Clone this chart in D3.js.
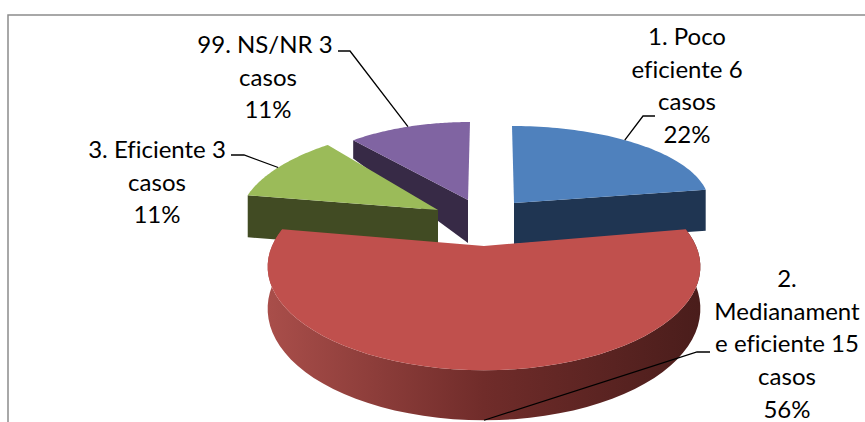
<!DOCTYPE html>
<html>
<head>
<meta charset="utf-8">
<script src="https://cdn.jsdelivr.net/npm/d3@7"></script>
<style>
  html, body { margin: 0; padding: 0; background: #fff; }
  text { font-family: Lato, "Open Sans", sans-serif; font-size: 24px; fill: #000; font-variant-ligatures: none; }
</style>
</head>
<body>
<div id="chart-container"></div>
<script>
// values
const categories = ["1. Poco eficiente", "2. Medianamente eficiente", "3. Eficiente", "99. NS/NR"];
const casos = [6, 15, 3, 3];
const topColors = ["#4f81bd", "#c0504d", "#9bbb59", "#8064a2"];
const wallColors = ["#1f3552", "#a94e4a", "#414b23", "#372a46"];

// how each label is broken in lines, the last two lines are filled from the data
const labelBreaks = [
  ["1. Poco", "eficiente 6"],
  ["2.", "Medianament", "e eficiente 15"],
  ["3. Eficiente 3"],
  ["99. NS/NR 3"]
];

var width = 865, height = 422;

// exploded slices: each one has its own centre and perspective
// s = sideways shear, p = perspective, d/k = wall depth, lead = where the leader touches
const slices = [
  {cx: 514, cy: 203, rx: 195, ry: 77, s: -2, p: 0, d: 41, k: 0, lead: 0.44, wall: "cut-end"},
  {cx: 484, cy: 246, rx: 212, ry: 99.4, s: 0, p: 0.2, d: 40, k: 0.25, lead: 0.5, wall: "rim"},
  {cx: 438, cy: 210, rx: 197, ry: 85, s: 21.5, p: 0, d: 42, k: 0, lead: 0.5, wall: "cut-start"},
  {cx: 468, cy: 200, rx: 181, ry: 78, s: 2, p: 0, d: 43, k: 0.75, lead: 0.5, wall: "cut-start"}
];

// label layout: text centre, first baseline, leader knee and end next to the text
const labelLayout = [
  {x: 687, y: 45, knee: [643, 116], end: [655, 116]},
  {x: 787, y: 287, knee: [697, 352], end: [710, 352]},
  {x: 157, y: 158, knee: [244, 155], end: [231, 155]},
  {x: 265, y: 53, knee: [350, 51], end: [338, 51]}
];

const svg = d3.select("#chart-container")
  .append("svg")
    .attr("width", width)
    .attr("height", height)
    .style("display", "block")
    .style("background", "#fff");

// frame, cut by the edge of the picture on the right and at the bottom
svg.append("rect")
  .attr("x", 8).attr("y", 15)
  .attr("width", width + 20).attr("height", height + 20)
  .attr("fill", "none")
  .attr("stroke", "#8c8c8c")
  .attr("stroke-width", 1.5);

const total = d3.sum(casos);
const arcs = d3.pie().sort(null).value(d => d)(casos);

// rim point of a slice at angle a, lowered by the wall depth when down is set
function project(g, a, down) {
  const X = Math.sin(a), Y = -Math.cos(a);
  const w = 1 - g.p * Y;
  const px = g.cx + (g.rx * X - g.s * Y) / w;
  const py = g.cy + g.ry * Y / w;
  return [px, py + (down ? g.d * (1 + g.k * Y) : 0)];
}

const line = d3.line();
const rimAngles = arc => d3.range(0, 61).map(i => arc.startAngle + (arc.endAngle - arc.startAngle) * i / 60);

// horizontal shading of the big wall
const grad = svg.append("defs").append("linearGradient")
  .attr("id", "redWall")
  .attr("gradientUnits", "userSpaceOnUse")
  .attr("x1", 268).attr("x2", 700).attr("y1", 0).attr("y2", 0);
grad.append("stop").attr("offset", 0).attr("stop-color", wallColors[1]);
grad.append("stop").attr("offset", 0.5).attr("stop-color", "#702c2a");
grad.append("stop").attr("offset", 1).attr("stop-color", "#4a1d1b");

// paint far slices first, the red one goes over everything
const order = [3, 2, 0, 1];
const g = svg.append("g");
order.forEach(i => {
  const geo = slices[i], arc = arcs[i];
  const apex = [geo.cx, geo.cy];
  const apexDown = [geo.cx, geo.cy + geo.d];

  if (geo.wall == "rim") {
    const angles = rimAngles(arc);
    const pts = angles.map(a => project(geo, a, false))
      .concat(angles.slice().reverse().map(a => project(geo, a, true)));
    g.append("path").attr("d", line(pts) + "Z").attr("fill", "url(#redWall)");
  } else {
    const a = geo.wall == "cut-end" ? arc.endAngle : arc.startAngle;
    const pts = [apex, project(geo, a, false), project(geo, a, true), apexDown];
    g.append("path").attr("d", line(pts) + "Z").attr("fill", wallColors[i]);
  }

  const face = [apex].concat(rimAngles(arc).map(a => project(geo, a, false)));
  g.append("path").attr("d", line(face) + "Z").attr("fill", topColors[i]);
});

// leaders and labels
arcs.forEach((arc, i) => {
  const geo = slices[i], lay = labelLayout[i];
  const a = arc.startAngle + (arc.endAngle - arc.startAngle) * geo.lead;
  const start = project(geo, a, geo.wall == "rim");
  svg.append("path")
    .attr("d", line([start, lay.knee, lay.end]))
    .attr("fill", "none")
    .attr("stroke", "#000")
    .attr("stroke-width", 1.3);

  const lines = labelBreaks[i].concat(["casos", Math.round(casos[i] / total * 100) + "%"]);
  svg.append("text")
    .attr("text-anchor", "middle")
    .selectAll("tspan")
    .data(lines)
    .enter()
    .append("tspan")
      .attr("x", (d, j) => lay.x + (i == 3 && j > 0 ? 3 : 0))
      .attr("y", (d, j) => lay.y + j * 32.7)
      .text(d => d);
});
</script>
</body>
</html>
